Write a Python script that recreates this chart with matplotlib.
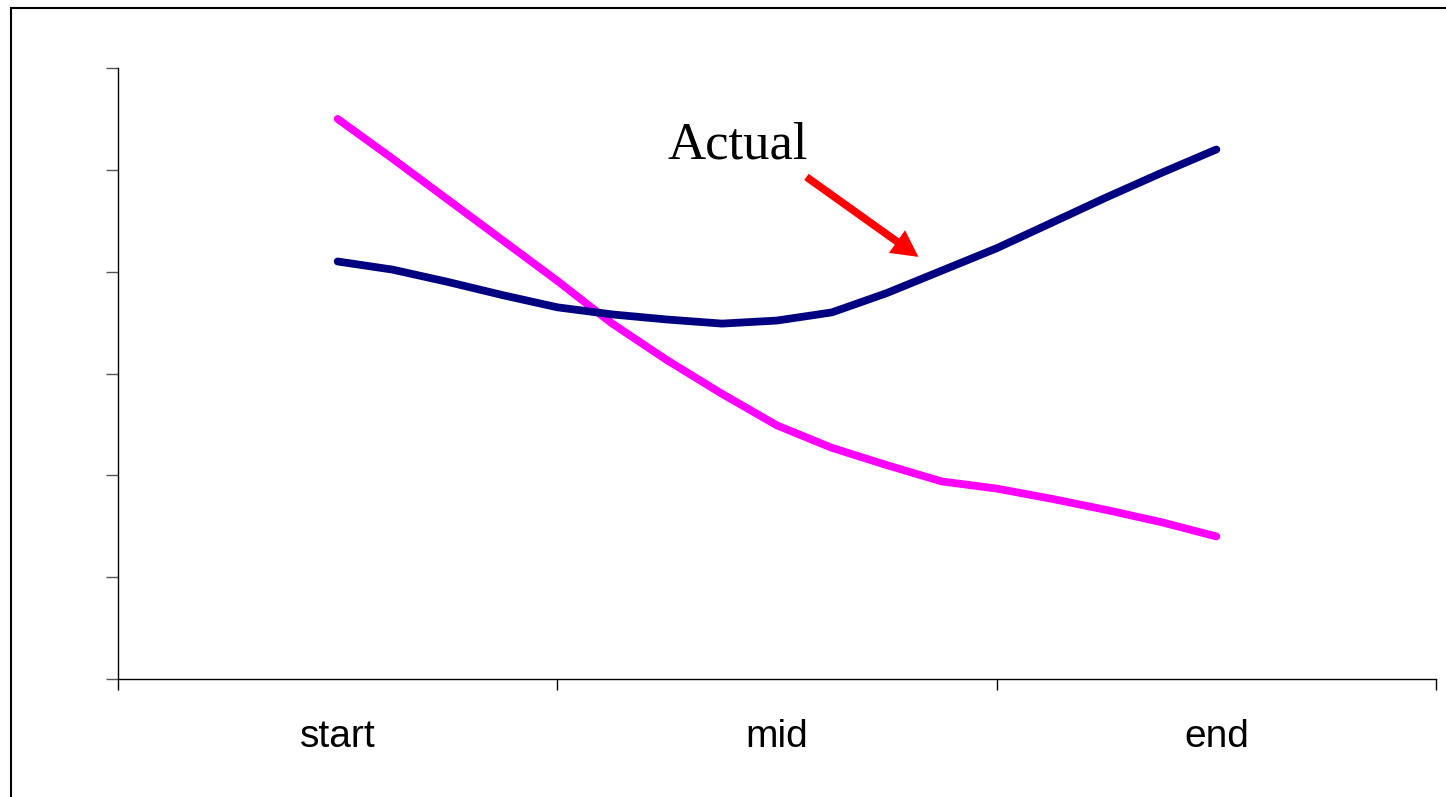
import matplotlib
matplotlib.use("Agg")
import matplotlib.pyplot as plt
from matplotlib.patches import Rectangle, FancyArrowPatch

categories = ["start", "mid", "end"]
x_pos = [0.0, 0.125, 0.25, 0.375, 0.5, 0.625, 0.75, 0.875, 1.0,
         1.125, 1.25, 1.375, 1.5, 1.625, 1.75, 1.875, 2.0]
actual = [4.10, 4.02, 3.90, 3.77, 3.65, 3.58, 3.53, 3.49, 3.52,
          3.60, 3.79, 4.01, 4.23, 4.48, 4.73, 4.97, 5.20]
other = [5.50, 5.11, 4.71, 4.31, 3.91, 3.49, 3.13, 2.80, 2.49,
         2.27, 2.10, 1.94, 1.87, 1.77, 1.66, 1.54, 1.40]
annot_text = "Actual"

fig = plt.figure(figsize=(14.46, 7.97), dpi=100)
ax = fig.add_axes([118/1446, 118/797, (1436-118)/1446, (679-68)/797])

ax.plot(x_pos, other, color="#FF00FF", lw=5.6, solid_capstyle="round", solid_joinstyle="round")
ax.plot(x_pos, actual, color="#000080", lw=5.6, solid_capstyle="round", solid_joinstyle="round")

ax.set_xlim(-0.5, 2.5)
ax.set_ylim(0, 6)

ax.set_xticks([-0.5, 0.5, 1.5, 2.5])
ax.set_xticklabels([])
ax.set_xticks([0, 1, 2], minor=True)
ax.set_xticklabels(categories, minor=True, fontsize=28, family="Liberation Sans")
ax.tick_params(axis="x", which="major", direction="out", length=8, width=1, color="black")
ax.tick_params(axis="x", which="minor", length=0, pad=29)

ax.set_yticks(range(0, 7))
ax.set_yticklabels([])
ax.tick_params(axis="y", direction="out", length=9, width=1, color="#555555")

for s in ["top", "right"]:
    ax.spines[s].set_visible(False)
for s in ["left", "bottom"]:
    ax.spines[s].set_linewidth(1.0)
    ax.spines[s].set_color("black")

ax.text(0.751, 5.116, annot_text, fontsize=38, family="Liberation Serif",
        ha="left", va="baseline")
arrow = FancyArrowPatch((1.067, 4.93), (1.322, 4.145),
                        arrowstyle="simple,head_length=19,head_width=20,tail_width=5.5",
                        mutation_scale=1, color="#FF0000", lw=0,
                        shrinkA=0, shrinkB=0)
ax.add_patch(arrow)

border = Rectangle((11/1446, -0.2), 1.5, 1 - 8/797 + 0.2, transform=fig.transFigure,
                   fill=False, edgecolor="black", lw=1.5, clip_on=False)
fig.patches.append(border)

fig.savefig("out.png", dpi=100)
